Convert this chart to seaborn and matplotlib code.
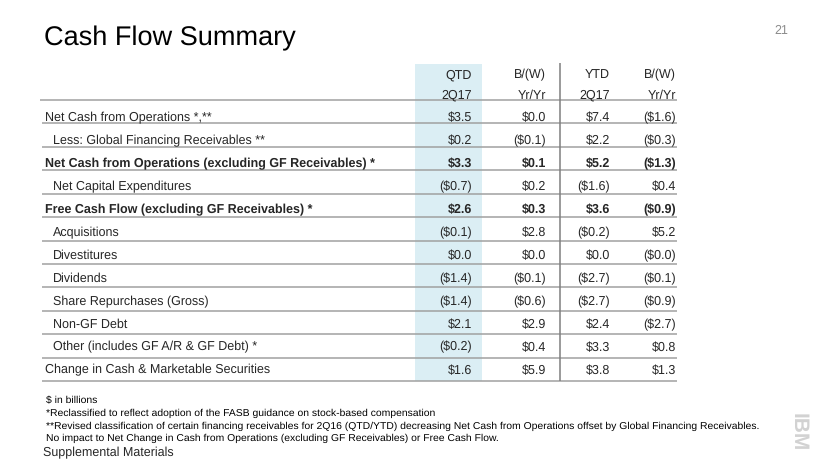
import math
import numpy as np
import matplotlib
matplotlib.use("Agg")
import matplotlib.pyplot as plt
from matplotlib.colors import ListedColormap
import seaborn as sns

# ---------------- data ----------------
title = "Cash Flow Summary"
page_number = "21"
col_head_top = ["QTD", "B/(W)", "YTD", "B/(W)"]
col_head_bottom = ["2Q17", "Yr/Yr", "2Q17", "Yr/Yr"]
row_labels = [
    "Net Cash from Operations *,**",
    "Less: Global Financing Receivables **",
    "Net Cash from Operations (excluding GF Receivables) *",
    "Net Capital Expenditures",
    "Free Cash Flow (excluding GF Receivables) *",
    "Acquisitions",
    "Divestitures",
    "Dividends",
    "Share Repurchases (Gross)",
    "Non-GF Debt",
    "Other (includes GF A/R & GF Debt) *",
    "Change in Cash & Marketable Securities",
]
row_indented = [False, True, False, True, False, True, True, True, True, True, True, False]
row_bold = [False, False, True, False, True, False, False, False, False, False, False, False]
qtd_2q17 = [3.5, 0.2, 3.3, -0.7, 2.6, -0.1, 0.0, -1.4, -1.4, 2.1, -0.2, 1.6]
qtd_bw = [0.0, -0.1, 0.1, 0.2, 0.3, 2.8, 0.0, -0.1, -0.6, 2.9, 0.4, 5.9]
ytd_2q17 = [7.4, 2.2, 5.2, -1.6, 3.6, -0.2, 0.0, -2.7, -2.7, 2.4, 3.3, 3.8]
ytd_bw = [-1.6, -0.3, -1.3, 0.4, -0.9, 5.2, -0.0, -0.1, -0.9, -2.7, 0.8, 1.3]
footnotes = [
    "$ in billions",
    "*Reclassified to reflect adoption of the FASB guidance on stock-based compensation",
    "**Revised classification of certain financing receivables for 2Q16 (QTD/YTD) decreasing Net Cash from Operations offset by Global Financing Receivables.",
    "No impact to Net Change in Cash from Operations (excluding GF Receivables) or Free Cash Flow.",
]
bottom_label = "Supplemental Materials"


def fmt(v):
    neg = v < 0 or (v == 0 and math.copysign(1.0, v) < 0)
    s = f"${abs(v):.1f}"
    return f"({s})" if neg else s


# ---------------- style ----------------
sns.set_theme(style="white")
plt.rcParams["font.family"] = ["Liberation Sans", "DejaVu Sans"]
plt.rcParams["text.hinting"] = "no_hinting"

W, H = 830, 467
fig = plt.figure(figsize=(W / 100, H / 100), dpi=100)
fig.patch.set_facecolor("white")

# layout (pixels)
band_x0, band_x1 = 415, 482
band_y0, band_y1 = 64, 381
line_x0, line_x1 = 42, 677
vline_x = 560
col_right = [472, 546, 610, 676]
head_base = [78.5, 98.5]
header_line_y = 100
text_c0, text_step = 116.7, 22.96
line_y0, line_step = 123.3, 23.45

# highlighted QTD column drawn as a one-cell seaborn heatmap
hax = fig.add_axes([band_x0 / W, 1 - band_y1 / H, (band_x1 - band_x0) / W, (band_y1 - band_y0) / H])
sns.heatmap(np.ones((1, 1)), cmap=ListedColormap(["#dbeef4"]), cbar=False, ax=hax,
            xticklabels=False, yticklabels=False)
hax.set_axis_off()

ax = fig.add_axes([0, 0, 1, 1])
ax.set_facecolor("none")
ax.set_xlim(0, W)
ax.set_ylim(H, 0)
ax.set_axis_off()

# title & page number
ax.text(44, 45, title, fontsize=19.5, color="#000000", va="baseline", ha="left")
ax.text(781, 34.5, page_number, fontsize=9, color="#8c8c8c", va="baseline", ha="center")

# headers
for j in range(4):
    ax.text(col_right[j], head_base[0], col_head_top[j], fontsize=9, ha="right", va="baseline")
    ax.text(col_right[j], head_base[1], col_head_bottom[j], fontsize=9, ha="right", va="baseline")
ax.plot([40, line_x1], [header_line_y, header_line_y], color="#a0a0a0", lw=1.1, solid_capstyle="butt")

# rows
cols = [qtd_2q17, qtd_bw, ytd_2q17, ytd_bw]
for i, lab in enumerate(row_labels):
    yb = text_c0 + text_step * i + 4.5
    weight = "bold" if row_bold[i] else "normal"
    x = 52.5 if row_indented[i] else 45
    ax.text(x, yb, lab, fontsize=9, fontweight=weight, ha="left", va="baseline")
    for j, col in enumerate(cols):
        ax.text(col_right[j], yb, fmt(col[i]), fontsize=9, fontweight=weight,
                ha="right", va="baseline")
    ly = line_y0 + line_step * i
    ax.plot([line_x0, line_x1], [ly, ly], color="#a0a0a0", lw=1.1, solid_capstyle="butt")

# vertical divider
ax.plot([vline_x, vline_x], [63, band_y1], color="#7f7f7f", lw=1.1, solid_capstyle="butt")

# footnotes
foot_y = [400, 412.5, 425, 437.7]
for t, y in zip(footnotes, foot_y):
    ax.text(46, y + 3.5, t, fontsize=7.45, ha="left", va="baseline", color="#000000")
ax.text(42.5, 451.7 + 4.5, bottom_label, fontsize=9, ha="left", va="baseline")

# logo
ax.text(798, 432, "IBM", fontsize=15, fontweight="bold", color="#d2d2d2",
        rotation=-90, ha="center", va="center")

fig.savefig("out.png", dpi=100, facecolor="white")
